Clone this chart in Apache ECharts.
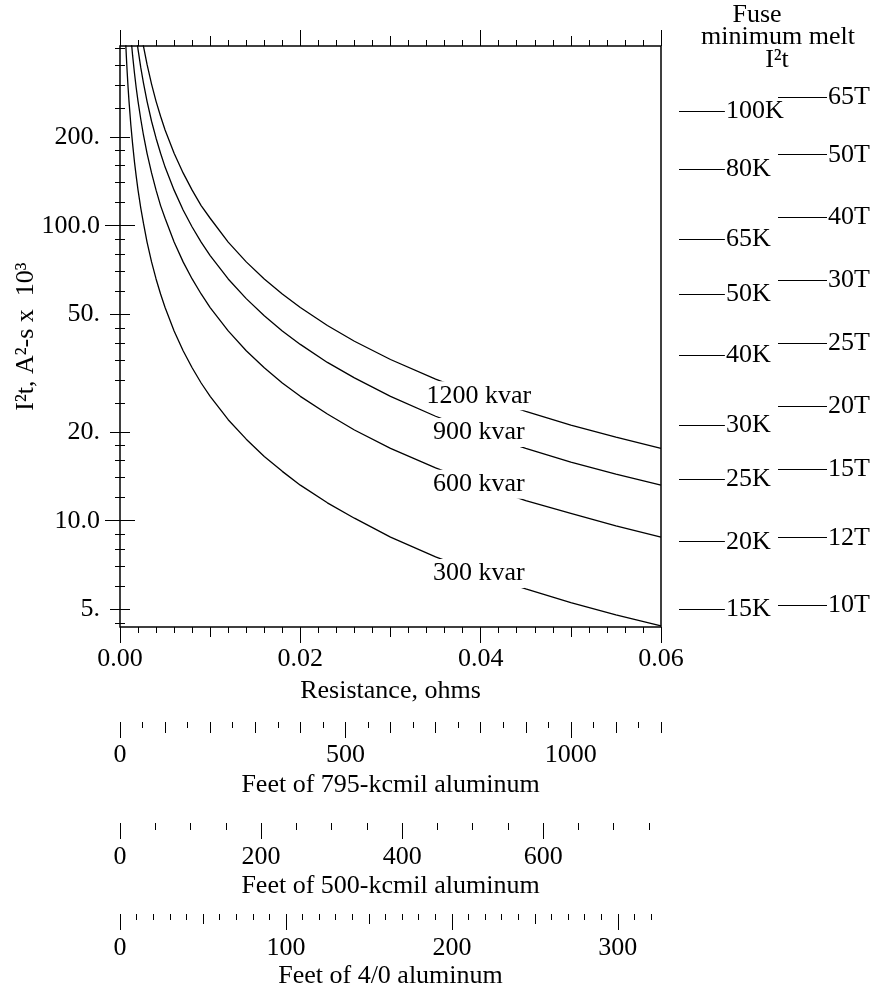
<!DOCTYPE html>
<html><head><meta charset="utf-8">
<script src="https://cdn.jsdelivr.net/npm/echarts@6/dist/echarts.min.js"></script>
<style>html,body{margin:0;padding:0;background:#fff}#c{width:882px;height:988px}</style>
</head><body><div id="c"></div>
<script>
// ---------------- data ----------------
const resistance = [0.0006,0.0007,0.0008,0.0009,0.001,0.0012,0.0014,0.0016,0.0018,0.002,0.0023,0.0026,0.003,0.0035,0.004,0.0045,0.005,0.006,0.007,0.008,0.009,0.01,0.012,0.014,0.016,0.018,0.02,0.023,0.026,0.03,0.035,0.04,0.045,0.05,0.055,0.06];
const i2t300  = [440,377,330,293,264,220,189,165,147,132,115,102,88,75.4,66,58.7,52.8,44,37.7,33,29.3,26.4,22,18.9,16.5,14.7,13.2,11.5,10.2,8.8,7.54,6.6,5.87,5.28,4.8,4.4];
const i2t600  = [880,754,660,587,528,440,377,330,293,264,230,203,176,151,132,117,106,88,75.4,66,58.7,52.8,44,37.7,33,29.3,26.4,23,20.3,17.6,15.1,13.2,11.7,10.6,9.6,8.8];
const i2t900  = [1320,1131,990,880,792,660,566,495,440,396,344,305,264,226,198,176,158,132,113,99,88,79.2,66,56.6,49.5,44,39.6,34.4,30.5,26.4,22.6,19.8,17.6,15.8,14.4,13.2];
const i2t1200 = [1760,1509,1320,1173,1056,880,754,660,587,528,459,406,352,302,264,235,211,176,151,132,117,106,88,75.4,66,58.7,52.8,45.9,40.6,35.2,30.2,26.4,23.5,21.1,19.2,17.6];
const curveNames = ['300 kvar','600 kvar','900 kvar','1200 kvar'];
const curveLabelR = [0.0398,0.0398,0.0398,0.0398];
const curveLabelI2t = [6.63,13.3,19.9,26.5];

const yMin = 4.363, yMax = 406.6;
const yLabelValues = [5,10,20,50,100,200];
const yLabelTexts = ['5.','10.0','20.','50.','100.0','200.'];
const yDecadeTicks = [10,100];
const yMidTicks = [5,20,50,200];
const yMinorTicks = [4.5,6,7,8,9,12,14,16,18,25,30,35,40,45,60,70,80,90,120,140,160,180,250,300,350,400];

const xMin = 0, xMax = 0.06;
const xMajorTicks = [0,0.02,0.04,0.06];
const xMajorLabels = ['0.00','0.02','0.04','0.06'];
const xMidTicks = [0.01,0.03,0.05];
const xMinorStep = 0.002;

const kFuseNames = ['100K','80K','65K','50K','40K','30K','25K','20K','15K'];
const kFuseI2t = [245,155,90,58.7,36.3,21.1,13.8,8.49,5.01];
const tFuseNames = ['65T','50T','40T','30T','25T','20T','15T','12T','10T'];
const tFuseI2t = [272,174,107,65.5,40.1,24.5,15.0,8.76,5.18];

const ft795Max = 1200, ft795Major = [0,500,1000], ft795MidStep = 100, ft795MinorStep = 50, ft795End = 1200;
const ft500Max = 767,  ft500Major = [0,200,400,600], ft500MinorStep = 50, ft500End = 750;
const ft40Max = 326,   ft40Major = [0,100,200,300], ft40MidStep = 50, ft40MinorStep = 10, ft40End = 320;

// ---------------- helpers ----------------
const L = Math.log10;
function seq(a, b, step) { const out = []; for (let i = 0; a + i * step <= b + 1e-9; i++) out.push(+(a + i * step).toFixed(6)); return out; }
const BLACK = '#000';
const FONT = 'Liberation Serif';
const FS = 26;
const txt = (extra) => Object.assign({ fontFamily: FONT, fontSize: FS, color: BLACK }, extra || {});

function tickAxis(base, ticks, len, label, name) {
  return Object.assign({
    type: 'value',
    axisLine: { show: false },
    splitLine: { show: false },
    minorTick: { show: false },
    minorSplitLine: { show: false },
    axisTick: { show: true, inside: false, length: len, customValues: ticks, lineStyle: { color: BLACK, width: 1 } },
    axisLabel: label ? Object.assign(txt(), label) : { show: false },
    name: name ? name.text : '',
    nameLocation: 'middle',
    nameGap: name ? name.gap : 0,
    nameMoveOverlap: false,
    nameTextStyle: txt()
  }, base);
}

// ---------------- axes ----------------
const yLog = { min: L(yMin), max: L(yMax), gridIndex: 0 };
const yAxes = [
  { type: 'log', gridIndex: 0, min: yMin, max: yMax, logBase: 10, show: true,
    axisLine: { show: false }, axisTick: { show: false }, axisLabel: { show: false },
    splitLine: { show: false }, minorTick: { show: false }, minorSplitLine: { show: false } },
  tickAxis(Object.assign({ position: 'left' }, yLog), yDecadeTicks.map(L), 15),
  tickAxis(Object.assign({ position: 'left' }, yLog), yMidTicks.map(L), 10,
    { customValues: yLabelValues.map(L), margin: 20,
      formatter: v => { const i = yLabelValues.findIndex(t => Math.abs(L(t) - v) < 1e-6); return i >= 0 ? yLabelTexts[i] : ''; } },
    { text: 'I\u00B2t, A\u00B2-s x  10\u00B3', gap: 81 }),
  tickAxis(Object.assign({ position: 'left' }, yLog), yMinorTicks.map(L), 5),
  tickAxis(Object.assign({ position: 'right' }, yLog), yDecadeTicks.map(L), 15),
  tickAxis(Object.assign({ position: 'right' }, yLog), yMidTicks.map(L), 10),
  tickAxis(Object.assign({ position: 'right' }, yLog), yMinorTicks.map(L), 5),
  // fuse grid
  { type: 'log', gridIndex: 1, min: yMin, max: yMax, logBase: 10, show: false }
];

const xR = { min: xMin, max: xMax, gridIndex: 0 };
const xAxes = [
  tickAxis(Object.assign({ position: 'bottom' }, xR), xMajorTicks, 16,
    { customValues: xMajorTicks, margin: 19, formatter: v => { const i = xMajorTicks.findIndex(t => Math.abs(t - v) < 1e-9); return i >= 0 ? xMajorLabels[i] : ''; } },
    { text: 'Resistance, ohms', gap: 51 }),
  tickAxis(Object.assign({ position: 'bottom' }, xR), xMidTicks, 10),
  tickAxis(Object.assign({ position: 'bottom' }, xR), seq(xMin, xMax, xMinorStep), 6),
  tickAxis(Object.assign({ position: 'top' }, xR), xMajorTicks, 16),
  tickAxis(Object.assign({ position: 'top' }, xR), xMidTicks, 10),
  tickAxis(Object.assign({ position: 'top' }, xR), seq(xMin, xMax, xMinorStep), 6),
  // 795-kcmil
  tickAxis({ position: 'bottom', offset: 95, min: 0, max: ft795Max, gridIndex: 0 }, ft795Major, 16,
    { customValues: ft795Major, margin: 20, formatter: v => String(v) },
    { text: 'Feet of 795-kcmil aluminum', gap: 50 }),
  tickAxis({ position: 'bottom', offset: 95, min: 0, max: ft795Max, gridIndex: 0 }, seq(0, ft795End, ft795MidStep), 11),
  tickAxis({ position: 'bottom', offset: 95, min: 0, max: ft795Max, gridIndex: 0 }, seq(0, ft795End, ft795MinorStep), 6),
  // 500-kcmil
  tickAxis({ position: 'bottom', offset: 196, min: 0, max: ft500Max, gridIndex: 0 }, ft500Major, 16,
    { customValues: ft500Major, margin: 21, formatter: v => String(v) },
    { text: 'Feet of 500-kcmil aluminum', gap: 50 }),
  tickAxis({ position: 'bottom', offset: 196, min: 0, max: ft500Max, gridIndex: 0 }, seq(0, ft500End, ft500MinorStep), 7),
  // 4/0
  tickAxis({ position: 'bottom', offset: 287, min: 0, max: ft40Max, gridIndex: 0 }, ft40Major, 16,
    { customValues: ft40Major, margin: 21, formatter: v => String(v) },
    { text: 'Feet of 4/0 aluminum', gap: 49 }),
  tickAxis({ position: 'bottom', offset: 287, min: 0, max: ft40Max, gridIndex: 0 }, seq(0, ft40End, ft40MidStep), 10),
  tickAxis({ position: 'bottom', offset: 287, min: 0, max: ft40Max, gridIndex: 0 }, seq(0, ft40End, ft40MinorStep), 6),
  // fuse grid x
  { type: 'value', gridIndex: 1, min: 0, max: 1, show: false }
];
const fuseX = xAxes.length - 1;
const fuseY = yAxes.length - 1;

// ---------------- series ----------------
const curves = [i2t300, i2t600, i2t900, i2t1200].map((vals, k) => ({
  type: 'line', name: curveNames[k], xAxisIndex: 0, yAxisIndex: 0,
  data: resistance.map((r, i) => [r, vals[i]]),
  showSymbol: false, symbol: 'none', clip: true, silent: true,
  lineStyle: { color: BLACK, width: 1.3 }, z: 2
}));

const curveLabels = {
  type: 'scatter', xAxisIndex: 0, yAxisIndex: 0, symbolSize: 0, z: 10, silent: true,
  itemStyle: { opacity: 1, color: '#fff' },
  data: curveLabelR.map((r, i) => ({ value: [r, curveLabelI2t[i]], name: curveNames[i] })),
  label: txt({ show: true, position: 'inside', formatter: '{b}', backgroundColor: '#fff', padding: [2, 0, 1, 0],
               opacity: 1, textBorderWidth: 0, textBorderColor: 'transparent' })
};

const kSpan = [0, 0.31], tSpan = [0.669, 1];
function fuseLines(names, vals, span) {
  return names.map((n, i) => [
    { coord: [span[0], vals[i]], name: n },
    { coord: [span[1], vals[i]] }
  ]);
}
const fuseSeries = {
  type: 'line', xAxisIndex: fuseX, yAxisIndex: fuseY, data: [], silent: true,
  markLine: {
    symbol: ['none', 'none'], silent: true, animation: false,
    lineStyle: { color: BLACK, width: 1, type: 'solid' },
    label: txt({ show: true, position: 'end', distance: 1, formatter: '{b}' }),
    emphasis: { disabled: true },
    data: fuseLines(kFuseNames, kFuseI2t, kSpan).concat(fuseLines(tFuseNames, tFuseI2t, tSpan))
  }
};

const titleFont = FS + 'px "' + FONT + '"';
const option = {
  animation: false,
  backgroundColor: '#fff',
  textStyle: { fontFamily: FONT, color: BLACK },
  grid: [
    { left: 120, right: 221, top: 46, bottom: 361, show: true, borderColor: BLACK, borderWidth: 1.5, backgroundColor: 'transparent', outerBoundsMode: 'none', containLabel: false },
    { left: 679, right: 55, top: 46, bottom: 361, show: false, outerBoundsMode: 'none', containLabel: false }
  ],
  xAxis: xAxes,
  yAxis: yAxes,
  series: curves.concat([curveLabels, fuseSeries]),
  graphic: [
    { type: 'text', x: 757, y: 15, style: { text: 'Fuse', font: titleFont, fill: BLACK, align: 'center', verticalAlign: 'middle', textAlign: 'center', textVerticalAlign: 'middle' } },
    { type: 'text', x: 778, y: 37, style: { text: 'minimum melt', font: titleFont, fill: BLACK, align: 'center', verticalAlign: 'middle', textAlign: 'center', textVerticalAlign: 'middle' } },
    { type: 'text', x: 777, y: 60, style: { text: 'I\u00B2t', font: titleFont, fill: BLACK, align: 'center', verticalAlign: 'middle', textAlign: 'center', textVerticalAlign: 'middle' } }
  ]
};

const chart = echarts.init(document.getElementById('c'), null, { renderer: 'canvas', width: 882, height: 988 });
chart.setOption(option);
</script>
</body></html>
